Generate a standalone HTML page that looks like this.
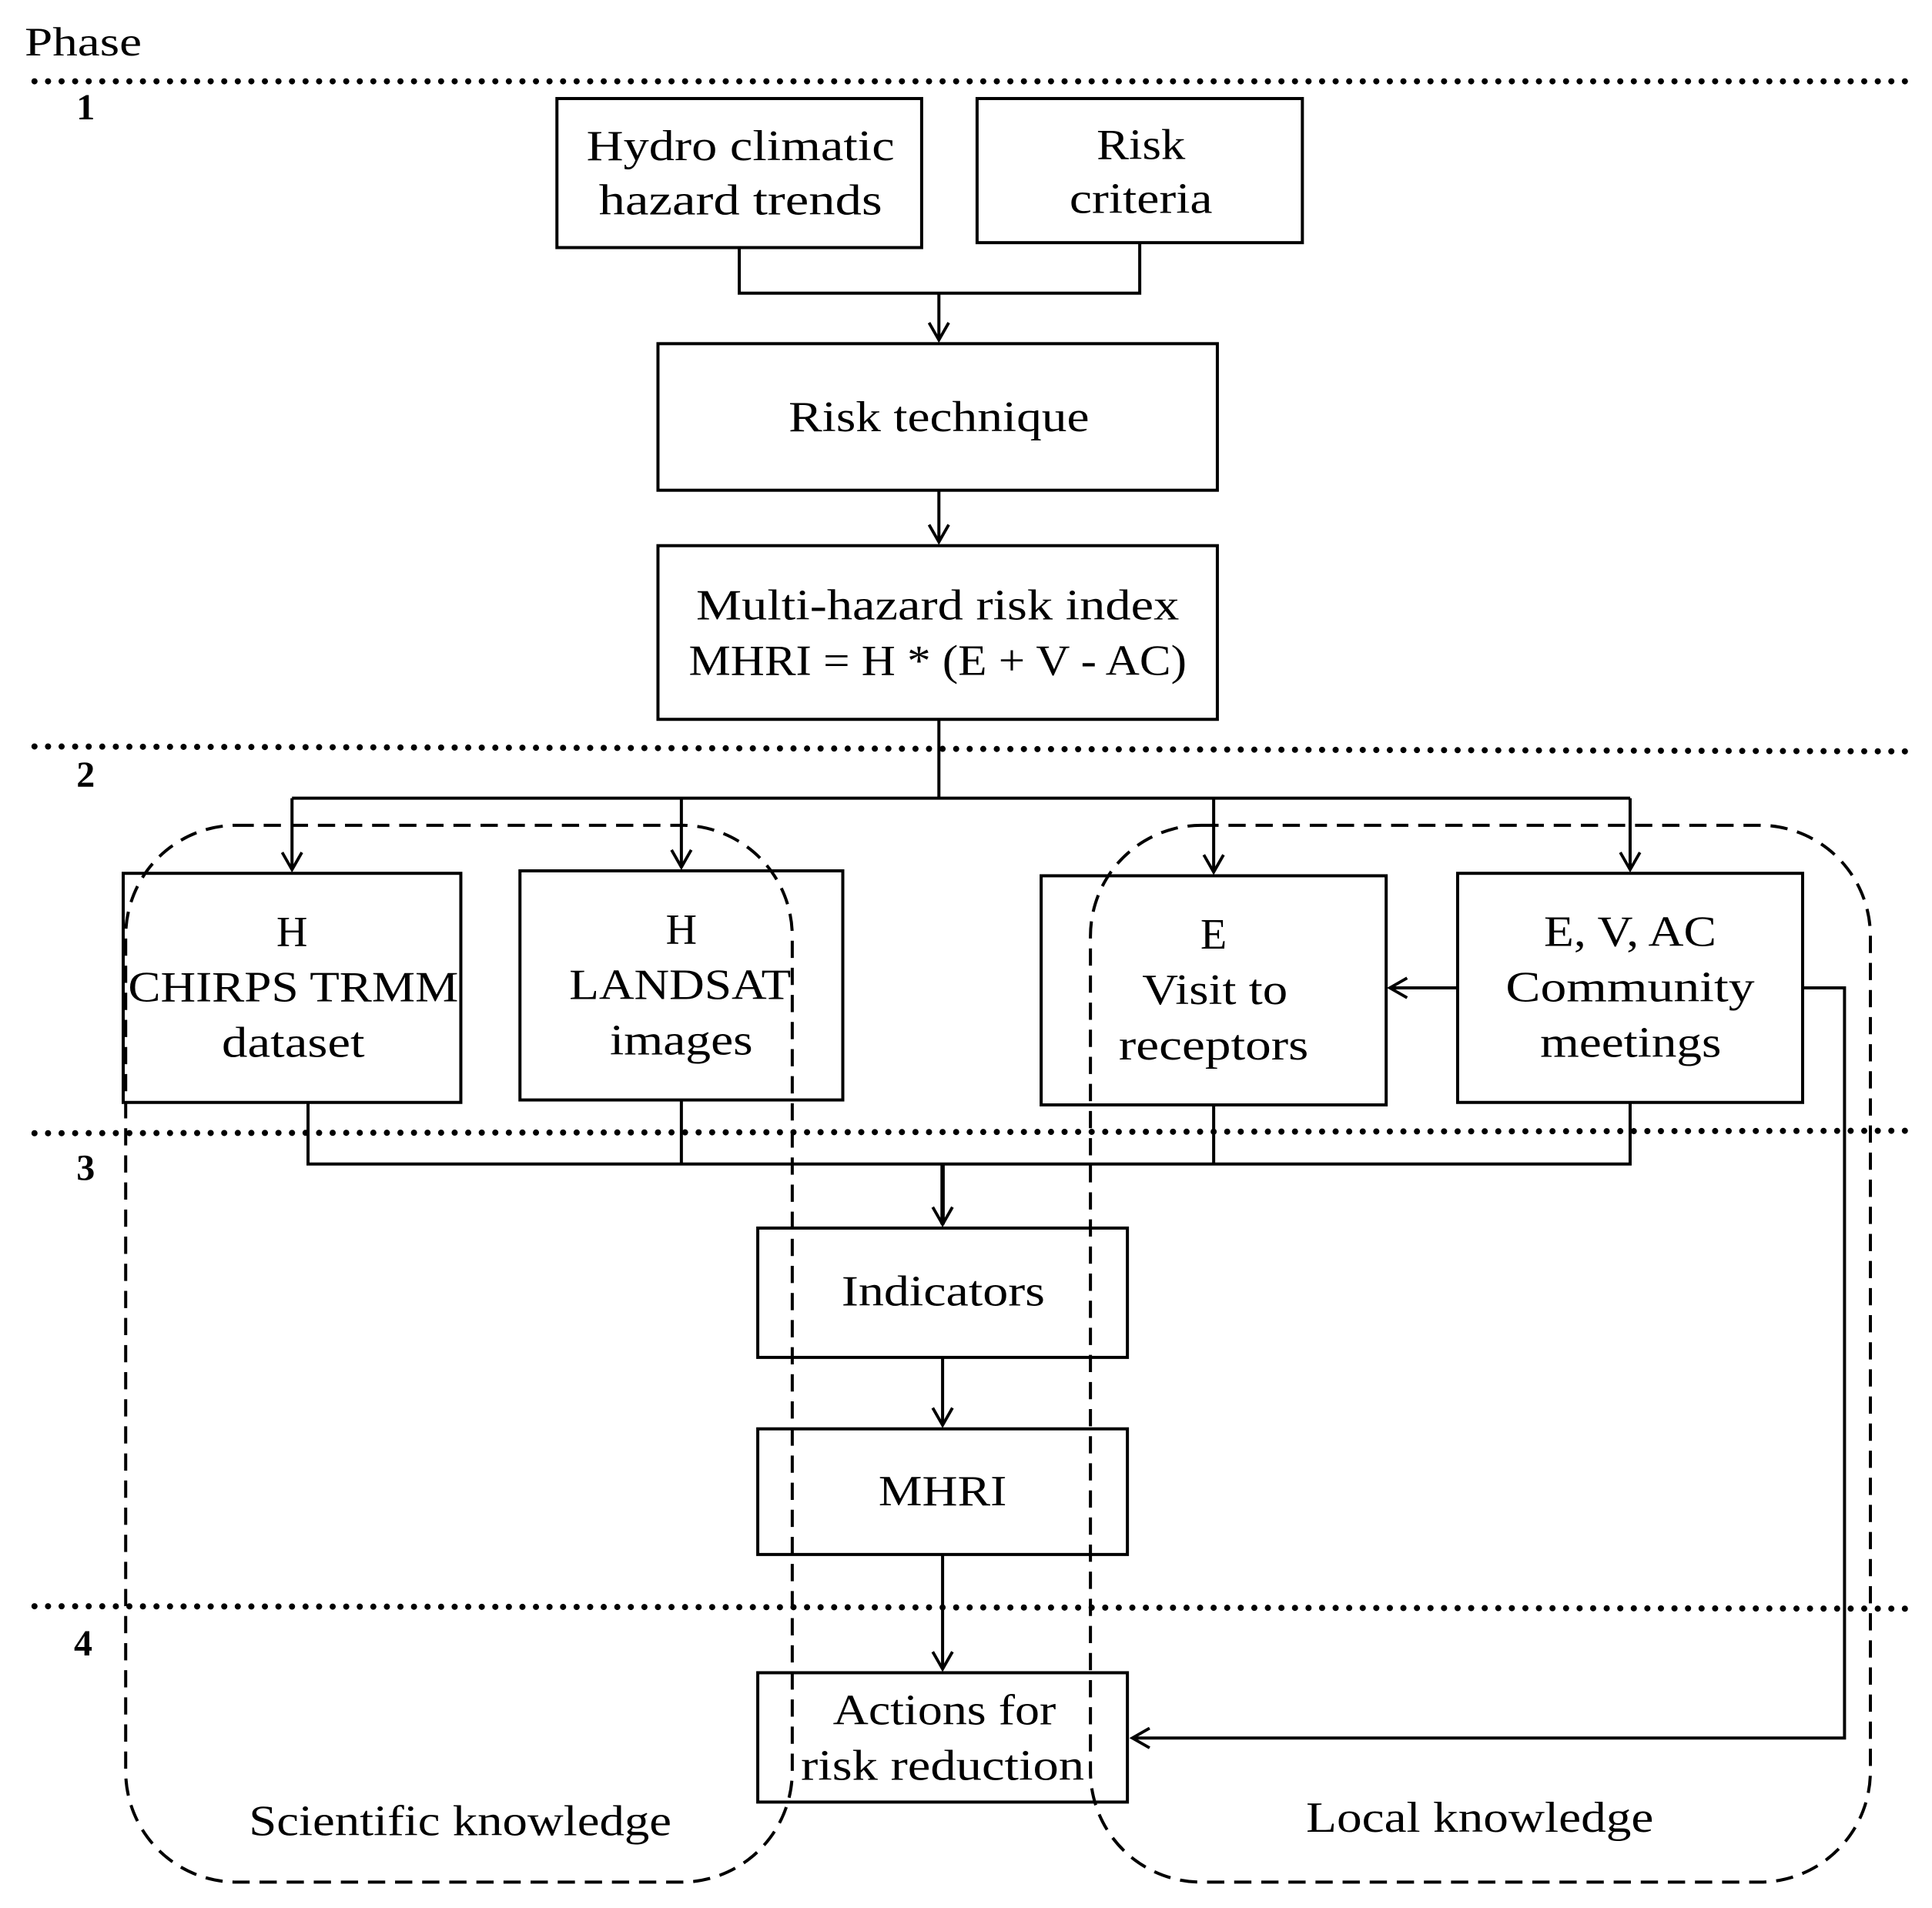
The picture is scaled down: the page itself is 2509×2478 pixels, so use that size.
<!DOCTYPE html>
<html><head><meta charset="utf-8"><style>html,body{margin:0;padding:0;background:#fff}svg{display:block}</style></head>
<body>
<svg width="2509" height="2478" viewBox="0 0 1568 1549" preserveAspectRatio="none" xmlns="http://www.w3.org/2000/svg" font-family="'Liberation Serif', serif" fill="none" stroke="#000">
<defs><marker id="a" markerWidth="18" markerHeight="18" refX="15" refY="9" orient="auto" markerUnits="userSpaceOnUse"><path d="M1,1 L15,9 L1,17" stroke="#000" stroke-width="2.4" fill="none"/></marker></defs>
<g stroke-width="5" stroke-dasharray="0 11" stroke-linecap="round">
<line x1="28" y1="66" x2="1550" y2="66"/><line x1="28" y1="606" x2="1550" y2="610"/><line x1="28" y1="920" x2="1550" y2="918"/><line x1="28" y1="1304" x2="1550" y2="1306"/>
</g>
<g fill="#000" stroke="none" font-size="33" lengthAdjust="spacingAndGlyphs">
<text x="20" y="45" textLength="95" lengthAdjust="spacingAndGlyphs">Phase</text>
<g font-weight="bold" font-size="30"><text x="62" y="97">1</text><text x="62" y="639">2</text><text x="62" y="958">3</text><text x="60" y="1344">4</text></g>
</g>
<g stroke-width="2.5">
<rect x="452" y="80" width="296" height="121"/><rect x="793" y="80" width="264" height="117"/>
<rect x="534" y="279" width="454" height="119"/><rect x="534" y="443" width="454" height="141"/>
<rect x="100" y="709" width="274" height="186"/><rect x="422" y="707" width="262" height="186"/>
<rect x="845" y="711" width="280" height="186"/><rect x="1183" y="709" width="280" height="186"/>
<rect x="615" y="997" width="300" height="105"/><rect x="615" y="1160" width="300" height="102"/><rect x="615" y="1358" width="300" height="105"/>
</g>
<g stroke-width="2.5">
<path d="M600,201 V238 H925 V197"/><path d="M762,238 V276" marker-end="url(#a)"/>
<path d="M762,398 V440" marker-end="url(#a)"/>
<path d="M762,584 V648 M237,648 H1323"/>
<path d="M237,648 V706" marker-end="url(#a)"/><path d="M553,648 V704" marker-end="url(#a)"/>
<path d="M985,648 V708" marker-end="url(#a)"/><path d="M1323,648 V706" marker-end="url(#a)"/>
<path d="M1183,802 H1128" marker-end="url(#a)"/>
<path d="M1463,802 H1497 V1411 H919" marker-end="url(#a)"/>
<path d="M250,895 V945 H1323 V895 M553,893 V945 M985,897 V945"/>
<path d="M765,945 V994" stroke-width="3.5" marker-end="url(#a)"/>
<path d="M765,1102 V1157" marker-end="url(#a)"/>
<path d="M765,1262 V1355" marker-end="url(#a)"/>
</g>
<g stroke-width="2.5" stroke-dasharray="14 8">
<rect x="102" y="670" width="541" height="858" rx="90"/>
<rect x="885" y="670" width="633" height="858" rx="90"/>
</g>
<g fill="#000" stroke="none" font-size="35" lengthAdjust="spacingAndGlyphs">
<text x="476" y="130" textLength="250" lengthAdjust="spacingAndGlyphs">Hydro climatic</text>
<text x="486" y="174" textLength="230" lengthAdjust="spacingAndGlyphs">hazard trends</text>
<text x="890" y="129" textLength="72" lengthAdjust="spacingAndGlyphs">Risk</text>
<text x="868" y="173" textLength="116" lengthAdjust="spacingAndGlyphs">criteria</text>
<text x="640" y="350" textLength="244" lengthAdjust="spacingAndGlyphs">Risk technique</text>
<text x="565" y="503" textLength="392" lengthAdjust="spacingAndGlyphs">Multi-hazard risk index</text>
<text x="559" y="548" textLength="404" lengthAdjust="spacingAndGlyphs">MHRI = H * (E + V - AC)</text>
<text x="237" y="768" text-anchor="middle">H</text>
<text x="104" y="813" textLength="268" lengthAdjust="spacingAndGlyphs">CHIRPS TRMM</text>
<text x="180" y="858" textLength="116" lengthAdjust="spacingAndGlyphs">dataset</text>
<text x="553" y="766" text-anchor="middle">H</text>
<text x="462" y="811" textLength="180" lengthAdjust="spacingAndGlyphs">LANDSAT</text>
<text x="495" y="856" textLength="116" lengthAdjust="spacingAndGlyphs">images</text>
<text x="985" y="770" text-anchor="middle">E</text>
<text x="927" y="815" textLength="118" lengthAdjust="spacingAndGlyphs">Visit to</text>
<text x="908" y="860" textLength="154" lengthAdjust="spacingAndGlyphs">receptors</text>
<text x="1253" y="768" textLength="140" lengthAdjust="spacingAndGlyphs">E, V, AC</text>
<text x="1222" y="813" textLength="202" lengthAdjust="spacingAndGlyphs">Community</text>
<text x="1250" y="858" textLength="147" lengthAdjust="spacingAndGlyphs">meetings</text>
<text x="683" y="1060" textLength="165" lengthAdjust="spacingAndGlyphs">Indicators</text>
<text x="713" y="1222" textLength="104" lengthAdjust="spacingAndGlyphs">MHRI</text>
<text x="676" y="1400" textLength="181" lengthAdjust="spacingAndGlyphs">Actions for</text>
<text x="650" y="1445" textLength="230" lengthAdjust="spacingAndGlyphs">risk reduction</text>
<text x="202" y="1490" textLength="343" lengthAdjust="spacingAndGlyphs">Scientific knowledge</text>
<text x="1060" y="1487" textLength="282" lengthAdjust="spacingAndGlyphs">Local knowledge</text>
</g>
</svg>
</body></html>
